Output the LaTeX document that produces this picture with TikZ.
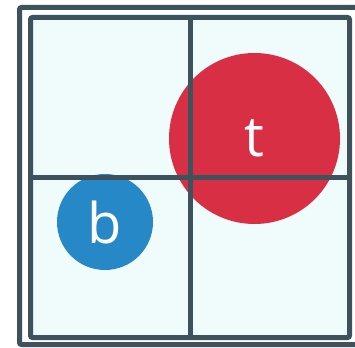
\documentclass[tikz,border=0pt]{standalone}
\usepackage{fontspec}
\newfontfamily\tokenfont{Open Sans}
\usetikzlibrary{positioning}
\definecolor{gridline}{HTML}{3D525D}
\definecolor{cellfill}{HTML}{F0FBFC}
\definecolor{tokenred}{HTML}{D82F45}
\definecolor{tokenblue}{HTML}{2788C7}

\begin{document}
\begin{tikzpicture}[x=1pt, y=-1pt,
    token/.style={circle, inner sep=0pt, text=white, font=\tokenfont\fontsize{56}{56}\selectfont},
    frame/.style={draw=gridline, line width=5pt, rounded corners=2pt}]
    \useasboundingbox (0,0) rectangle (355,347);
    % Rahmen
    \draw[frame, fill=white] (19.5,7.5) rectangle (359,344.5);
    \draw[frame, fill=cellfill] (30.5,17.5) rectangle (349.5,337.5);

    % Spielsteine
    \node[token, fill=tokenred, minimum size=171pt] (t) at (254.5,138.5) {t};
    \node[token, fill=tokenblue, minimum size=96pt] (b) at (105,222) {b};

    % Gitter
    \coordinate (top) at (190,17.5);
    \coordinate (bottom) at (190,337.5);
    \coordinate (left) at (30.5,177.5);
    \coordinate (right) at (349.5,177.5);
    \draw[gridline, line width=5pt] (top) -- (bottom);
    \draw[gridline, line width=5pt] (left) -- (right);
\end{tikzpicture}
\end{document}
